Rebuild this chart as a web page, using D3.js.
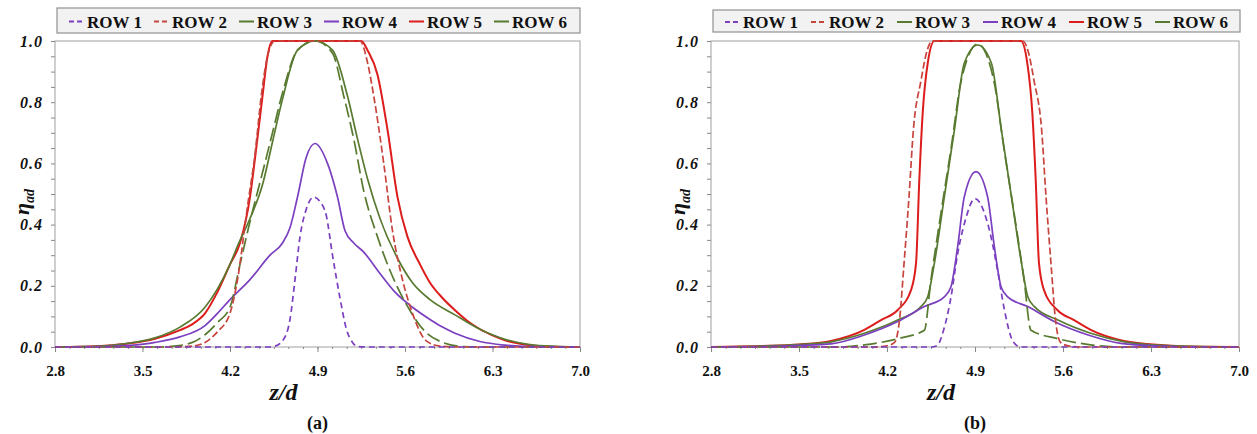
<!DOCTYPE html>
<html>
<head>
<meta charset="utf-8">
<!-- D3.js -->
<script src="https://cdn.jsdelivr.net/npm/d3@7"></script>
<style>
	body { margin: 0; background: #fff; }
	svg text { font-family: "Liberation Serif", "Times New Roman", serif; font-weight: bold; fill: #111; }
</style>
</head>
<body>
<div id="grafico"></div>
<script>
	// ---- data ----
	const rowNames = ["ROW 1", "ROW 2", "ROW 3", "ROW 4", "ROW 5", "ROW 6"];
	const xTicks = [2.8, 3.5, 4.2, 4.9, 5.6, 6.3, 7.0];
	const yTicks = [0.0, 0.2, 0.4, 0.6, 0.8, 1.0];
	const panelLabels = ["(a)", "(b)"];

	// panel (a): [z/d, eta]
	const a1 = [[2.8,0],[4.5,0],[4.56,0.003],[4.62,0.02],[4.68,0.09],[4.72,0.22],[4.76,0.36],[4.81,0.45],[4.87,0.49],[4.92,0.475],[4.97,0.43],[5.02,0.30],[5.08,0.16],[5.13,0.06],[5.18,0.015],[5.22,0.002],[5.3,0],[7.0,0]];
	const a2 = [[2.8,0],[3.7,0],[3.9,0.003],[4.0,0.015],[4.1,0.05],[4.2,0.11],[4.26,0.22],[4.34,0.46],[4.4,0.63],[4.45,0.82],[4.5,0.95],[4.56,1.0],[5.24,1.0],[5.3,0.93],[5.35,0.82],[5.43,0.6],[5.5,0.38],[5.58,0.22],[5.66,0.11],[5.77,0.02],[5.88,0.003],[6.0,0],[7.0,0]];
	const a3 = [[2.8,0],[3.0,0.001],[3.2,0.004],[3.4,0.013],[3.6,0.03],[3.8,0.065],[4.0,0.13],[4.1,0.19],[4.2,0.27],[4.26,0.33],[4.36,0.42],[4.46,0.53],[4.54,0.67],[4.62,0.81],[4.74,0.97],[4.88,1.0],[5.02,0.97],[5.14,0.82],[5.22,0.68],[5.3,0.55],[5.4,0.42],[5.54,0.29],[5.66,0.21],[5.8,0.155],[6.0,0.105],[6.2,0.058],[6.4,0.025],[6.6,0.008],[6.8,0.002],[7.0,0]];
	const a4 = [[2.8,0],[3.2,0.001],[3.4,0.005],[3.6,0.015],[3.8,0.033],[4.0,0.07],[4.1,0.11],[4.2,0.155],[4.36,0.22],[4.52,0.30],[4.62,0.34],[4.68,0.39],[4.74,0.49],[4.81,0.62],[4.88,0.665],[4.98,0.60],[5.06,0.49],[5.12,0.38],[5.19,0.34],[5.27,0.31],[5.4,0.24],[5.53,0.175],[5.66,0.13],[5.8,0.09],[5.9,0.065],[6.0,0.045],[6.2,0.018],[6.4,0.006],[6.6,0.001],[6.8,0],[7.0,0]];
	const a5 = [[2.8,0],[3.0,0.001],[3.2,0.004],[3.4,0.012],[3.6,0.027],[3.8,0.055],[3.9,0.075],[4.0,0.11],[4.1,0.18],[4.2,0.27],[4.28,0.34],[4.36,0.49],[4.41,0.65],[4.46,0.82],[4.5,0.95],[4.54,1.0],[5.25,1.0],[5.3,0.97],[5.38,0.89],[5.46,0.71],[5.54,0.49],[5.62,0.36],[5.72,0.27],[5.8,0.21],[5.9,0.16],[6.0,0.12],[6.1,0.085],[6.2,0.058],[6.3,0.038],[6.4,0.022],[6.5,0.012],[6.6,0.006],[6.8,0.001],[7.0,0]];
	const a6 = [[2.8,0],[3.6,0],[3.75,0.003],[3.9,0.015],[4.0,0.04],[4.1,0.08],[4.2,0.13],[4.28,0.27],[4.36,0.41],[4.46,0.57],[4.54,0.70],[4.62,0.83],[4.74,0.97],[4.88,1.0],[5.02,0.96],[5.11,0.82],[5.19,0.68],[5.27,0.51],[5.38,0.36],[5.48,0.25],[5.61,0.14],[5.75,0.055],[5.9,0.015],[6.05,0.002],[6.2,0],[7.0,0]];

	// panel (b)
	const b1 = [[2.8,0],[4.55,0],[4.6,0.005],[4.65,0.055],[4.71,0.165],[4.76,0.30],[4.82,0.41],[4.9,0.485],[5.0,0.405],[5.08,0.25],[5.13,0.13],[5.2,0.02],[5.26,0],[7.0,0]];
	const b2 = [[2.8,0],[4.1,0],[4.2,0.004],[4.26,0.015],[4.3,0.09],[4.335,0.27],[4.375,0.49],[4.41,0.71],[4.47,0.87],[4.52,0.97],[4.56,1.0],[5.28,1.0],[5.32,0.97],[5.37,0.87],[5.43,0.71],[5.465,0.49],[5.505,0.27],[5.54,0.09],[5.58,0.015],[5.65,0.003],[5.75,0],[7.0,0]];
	const b3 = [[2.8,0],[3.2,0.003],[3.5,0.008],[3.755,0.017],[4.02,0.045],[4.285,0.088],[4.47,0.132],[4.524,0.164],[4.577,0.274],[4.656,0.491],[4.736,0.709],[4.815,0.928],[4.922,0.987],[5.03,0.928],[5.11,0.709],[5.19,0.491],[5.27,0.274],[5.32,0.164],[5.373,0.132],[5.56,0.088],[5.82,0.045],[6.09,0.017],[6.4,0.005],[6.7,0.001],[7.0,0]];
	const b4 = [[2.8,0],[3.2,0.001],[3.5,0.005],[3.755,0.01],[4.02,0.039],[4.285,0.083],[4.497,0.132],[4.656,0.164],[4.709,0.197],[4.762,0.328],[4.815,0.491],[4.908,0.573],[5.0,0.491],[5.054,0.328],[5.107,0.197],[5.16,0.164],[5.32,0.132],[5.53,0.083],[5.8,0.039],[6.06,0.012],[6.4,0.003],[6.7,0],[7.0,0]];
	const b5 = [[2.8,0],[3.2,0.003],[3.5,0.008],[3.755,0.02],[4.02,0.056],[4.152,0.088],[4.285,0.121],[4.391,0.186],[4.431,0.274],[4.457,0.546],[4.484,0.765],[4.524,0.928],[4.577,1.0],[5.265,1.0],[5.316,0.928],[5.356,0.765],[5.383,0.546],[5.409,0.274],[5.449,0.186],[5.555,0.121],[5.688,0.088],[5.82,0.056],[6.085,0.02],[6.4,0.006],[6.7,0.001],[7.0,0]];
	const b6 = [[2.8,0],[3.8,0],[4.02,0.007],[4.285,0.027],[4.497,0.055],[4.55,0.22],[4.63,0.44],[4.71,0.65],[4.79,0.87],[4.922,0.99],[5.05,0.87],[5.13,0.65],[5.21,0.44],[5.29,0.22],[5.345,0.055],[5.56,0.027],[5.82,0.007],[6.05,0],[7.0,0]];

	// ---- styles ----
	const colores = ["#7b3fbf", "#c8453e", "#587a30", "#7b3fbf", "#dd1c1c", "#587a30"];
	const guiones = ["6,4", "7,3", null, null, null, "14,5"];
	const ordenDibujo = [4, 2, 3, 5, 1, 0];

	const ancho = 1257, alto = 434;
	const svg = d3.select("#grafico").append("svg")
		.attr("width", ancho).attr("height", alto);

	const paneles = [
		{ left: 55, right: 580, top: 41, bottom: 347, series: [a1, a2, a3, a4, a5, a6],
		  leg: { x0: 57, x1: 580, y0: 8, y1: 33, texto: 87, paso: 85 }, tituloY: 21 },
		{ left: 711, right: 1239, top: 41, bottom: 347, series: [b1, b2, b3, b4, b5, b6],
		  leg: { x0: 713, x1: 1240, y0: 10, y1: 32, texto: 743, paso: 86 }, tituloY: 677 }
	];

	paneles.forEach((p, k) => {
		const g = svg.append("g");
		const ejeX = d3.scaleLinear().domain([2.8, 7.0]).range([p.left, p.right]);
		const ejeY = d3.scaleLinear().domain([0, 1]).range([p.bottom, p.top]);

		// frame
		g.append("rect")
			.attr("x", p.left).attr("y", p.top)
			.attr("width", p.right - p.left).attr("height", p.bottom - p.top)
			.attr("fill", "none").attr("stroke", "#a0a0a0").attr("stroke-width", 1);

		// minor ticks
		const menoresY = d3.range(0, 21).map(i => i * 0.05);
		const menoresX = d3.range(0, 37).map(i => 2.8 + i * 0.7 / 6);
		g.append("g").attr("transform", `translate(${p.left},0)`)
			.call(d3.axisLeft(ejeY).tickValues(menoresY).tickSize(4).tickFormat(""))
			.call(s => s.select(".domain").remove())
			.selectAll("line").attr("stroke", "#888");
		g.append("g").attr("transform", `translate(0,${p.bottom})`)
			.call(d3.axisBottom(ejeX).tickValues(menoresX).tickSize(2).tickFormat(""))
			.call(s => s.select(".domain").remove())
			.selectAll("line").attr("stroke", "#888");

		// major x ticks + labels
		const gx = g.append("g").attr("transform", `translate(0,${p.bottom})`)
			.call(d3.axisBottom(ejeX).tickValues(xTicks).tickSize(5).tickPadding(13).tickFormat(d3.format(".1f")));
		gx.select(".domain").remove();
		gx.selectAll("line").attr("stroke", "#888");
		gx.selectAll("text").attr("font-size", "15px").attr("font-family", null).attr("fill", "#111");

		// y labels
		const gy = g.append("g").attr("transform", `translate(${p.left},0)`)
			.call(d3.axisLeft(ejeY).tickValues(yTicks).tickSize(0).tickPadding(12).tickFormat(d3.format(".1f")));
		gy.select(".domain").remove();
		gy.selectAll("text").attr("font-size", "16px").attr("font-style", "italic")
			.attr("font-family", null).attr("fill", "#111").attr("letter-spacing", "1px");

		// axis titles
		const x49 = ejeX(4.9);
		g.append("text").attr("x", x49 - 20).attr("y", 400)
			.attr("text-anchor", "end").attr("font-size", "24px").attr("font-style", "italic")
			.text("z/d");
		const ty = g.append("text")
			.attr("transform", `translate(${p.tituloY + 8},${(p.top + p.bottom) / 2 + 8}) rotate(-90)`)
			.attr("text-anchor", "middle").attr("font-style", "italic");
		ty.append("tspan").attr("font-size", "22px").text("η");
		ty.append("tspan").attr("font-size", "14px").attr("dy", 5).text("ad");

		g.append("text").attr("x", (p.left + p.right) / 2).attr("y", 429)
			.attr("text-anchor", "middle").attr("font-size", "18px")
			.text(panelLabels[k]);

		// curves
		const linea = d3.line()
			.x(d => ejeX(d[0])).y(d => ejeY(d[1]))
			.curve(d3.curveMonotoneX);
		ordenDibujo.forEach(i => {
			g.append("path")
				.datum(p.series[i])
				.attr("d", linea)
				.attr("fill", "none")
				.attr("stroke", colores[i])
				.attr("stroke-width", i === 4 ? 2 : 1.7)
				.attr("stroke-dasharray", guiones[i]);
		});

		// legend
		const L = p.leg;
		g.append("rect")
			.attr("x", L.x0).attr("y", L.y0)
			.attr("width", L.x1 - L.x0).attr("height", L.y1 - L.y0)
			.attr("fill", "#f2f2f2").attr("stroke", "#999").attr("stroke-width", 1.3);
		rowNames.forEach((nombre, i) => {
			const tx = L.texto + L.paso * i;
			const my = (L.y0 + L.y1) / 2 + 1;
			g.append("line")
				.attr("x1", tx - 18).attr("x2", tx - 3)
				.attr("y1", my).attr("y2", my)
				.attr("stroke", colores[i]).attr("stroke-width", 2)
				.attr("stroke-dasharray", i < 2 ? "5,3" : null);
			g.append("text")
				.attr("x", tx).attr("y", my + 6)
				.attr("font-size", "17px")
				.text(nombre);
		});
	});
</script>
</body>
</html>
